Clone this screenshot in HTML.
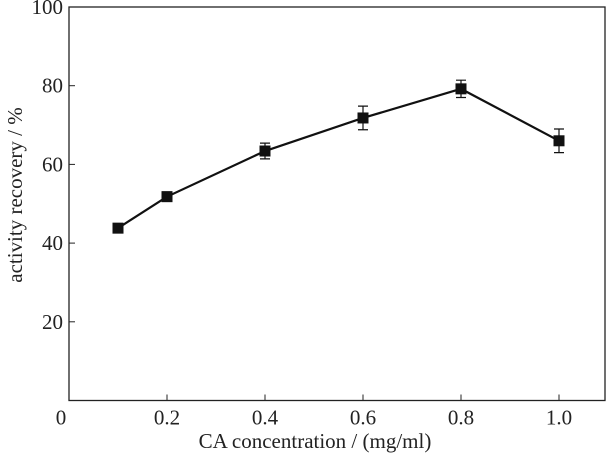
<!DOCTYPE html>
<html><head><meta charset="utf-8"><style>
body{margin:0;background:#fff}
svg text{font-family:"Liberation Serif",serif;fill:#222}
</style></head><body>
<svg width="607" height="459" xmlns="http://www.w3.org/2000/svg">
<g id="root"></g>
</svg>
<script>
const xValues=[0.1,0.2,0.4,0.6,0.8,1.0];
const yValues=[43.8,51.8,63.4,71.8,79.2,66.0];
const yErrors=[1.0,1.2,2.0,3.0,2.2,3.0];
const xTicks=[0.2,0.4,0.6,0.8,1.0];
const xTickLabels=["0.2","0.4","0.6","0.8","1.0"];
const yTicks=[20,40,60,80,100];
const yTickLabels=["20","40","60","80","100"];
const L=69,R=605,T=7,B=400.5;
const sx=v=>L+v*490;
const sy=v=>B-v*3.935;
const ns="http://www.w3.org/2000/svg";
const root=document.getElementById('root');
function mk(tag,attrs,txt){const e=document.createElementNS(ns,tag);for(const k in attrs)e.setAttribute(k,attrs[k]);if(txt!==undefined)e.textContent=txt;root.appendChild(e);return e;}
let e=mk('rect',{x:L,y:T,width:R-L,height:B-T,fill:'none',stroke:'#222','stroke-width':1.3});


xTicks.forEach((v,i)=>{
 let t=mk('line',{x1:sx(v),x2:sx(v),y1:B,y2:B-6,stroke:'#222','stroke-width':1});
 
 
 let l=mk('text',{x:sx(v),y:B+24,'font-size':21,'text-anchor':'middle'},xTickLabels[i]);
 
 
});
e=mk('text',{x:L-8,y:B+24,'font-size':21,'text-anchor':'middle'},"0");


yTicks.forEach((v,i)=>{
 let t=mk('line',{x1:L,x2:L+6,y1:sy(v),y2:sy(v),stroke:'#222','stroke-width':1});
 
 
 let l=mk('text',{x:L-6,y:sy(v)+7,'font-size':21,'text-anchor':'end'},yTickLabels[i]);
 
 
});
e=mk('text',{x:315,y:448,'font-size':21,'text-anchor':'middle'},"CA concentration / (mg/ml)");


e=mk('text',{x:0,y:0,'font-size':21,'text-anchor':'middle',transform:'translate(22,195) rotate(-90)'},"activity recovery / %");


e=mk('polyline',{points:xValues.map((x,i)=>sx(x)+','+sy(yValues[i])).join(' '),fill:'none',stroke:'#111','stroke-width':2.2});


xValues.forEach((x,i)=>{
 const cx=sx(x),y1=sy(yValues[i]+yErrors[i]),y2=sy(yValues[i]-yErrors[i]);
 let g=mk('path',{d:`M${cx},${y1}V${y2}M${cx-5},${y1}H${cx+5}M${cx-5},${y2}H${cx+5}`,stroke:'#111','stroke-width':1.2,fill:'none'});
 
 
 let m=mk('rect',{x:cx-5.5,y:sy(yValues[i])-5.5,width:11,height:11,fill:'#111'});
 
 
});
</script>
</body></html>
